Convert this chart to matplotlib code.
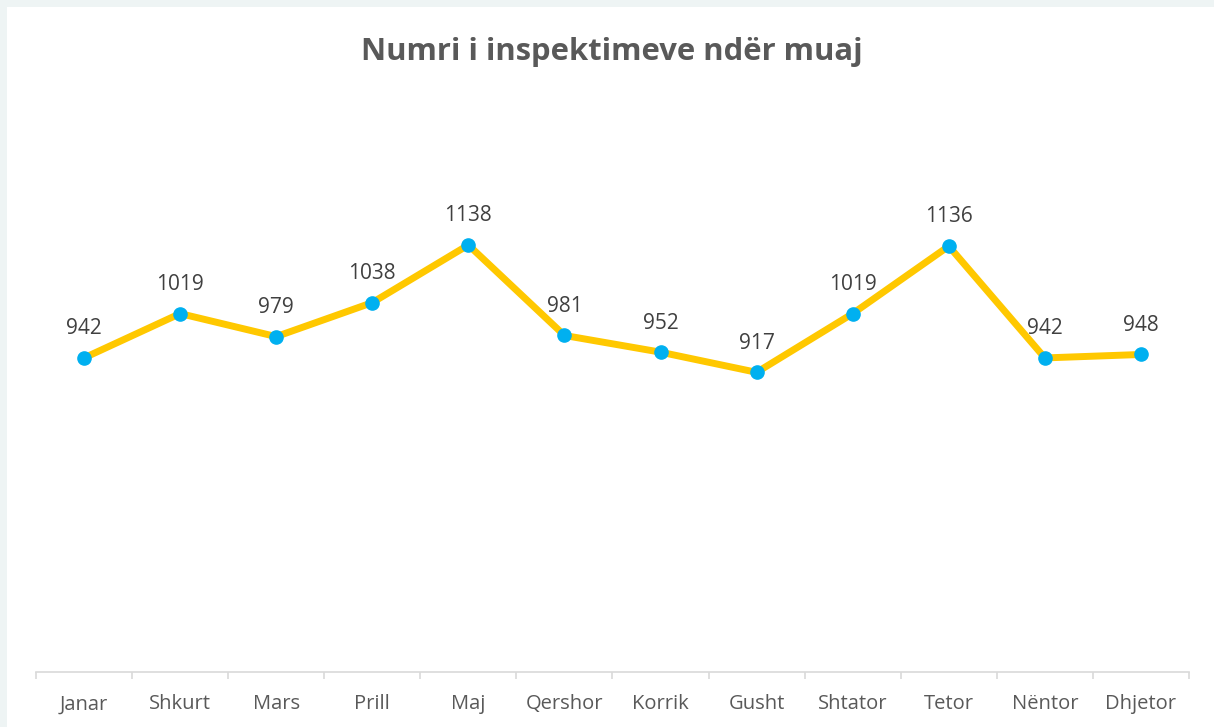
import matplotlib
matplotlib.use("Agg")
import matplotlib.pyplot as plt
from matplotlib.patches import Rectangle
import numpy as np

# monthly inspection counts
months = ["Janar", "Shkurt", "Mars", "Prill", "Maj", "Qershor",
          "Korrik", "Gusht", "Shtator", "Tetor", "Nëntor", "Dhjetor"]
inspections = [942, 1019, 979, 1038, 1138, 981, 952, 917, 1019, 1136, 942, 948]

title = "Numri i inspektimeve ndër muaj"

plt.rcParams["font.family"] = ["Open Sans", "DejaVu Sans"]

fig = plt.figure(figsize=(12.14, 7.27), dpi=100, facecolor="#EEF4F4")
fig.patches.append(Rectangle((7 / 1214, 0), 1, 720 / 727, transform=fig.transFigure,
                             facecolor="white", edgecolor="none", zorder=-10))

ax = fig.add_axes([36 / 1214, 55 / 727, 1153 / 1214, 578 / 727])
ax.set_facecolor("none")

x = np.arange(len(months))
ax.plot(x, inspections, color="#FFC800", linewidth=5, solid_joinstyle="round",
        marker="o", markersize=9.5, markerfacecolor="#00B0F0",
        markeredgecolor="#00B0F0", zorder=3)

for xi, val in zip(x, inspections):
    ax.annotate(str(val), (xi, val), xytext=(0, 21), textcoords="offset points",
                ha="center", va="center", fontsize=15, color="#404040")

ax.set_xlim(-0.5, len(months) - 0.5)
ax.set_ylim(397, 1400)

for side in ["top", "right", "left"]:
    ax.spines[side].set_visible(False)
ax.spines["bottom"].set_color("#D9D9D9")
ax.spines["bottom"].set_linewidth(1.2)

ax.set_yticks([])
ax.set_xticks(x)
ax.set_xticklabels(months, fontsize=14.5, color="#595959")
ax.tick_params(axis="x", which="major", length=0, pad=16)
ax.set_xticks(np.arange(-0.5, len(months)), minor=True)
ax.tick_params(axis="x", which="minor", length=5, width=1.2, color="#D9D9D9")

fig.text(0.504, 1 - 52 / 727, title, ha="center", va="center",
         fontsize=22.3, fontweight="bold", color="#595959")

fig.savefig("out.png", dpi=100, facecolor=fig.get_facecolor())
